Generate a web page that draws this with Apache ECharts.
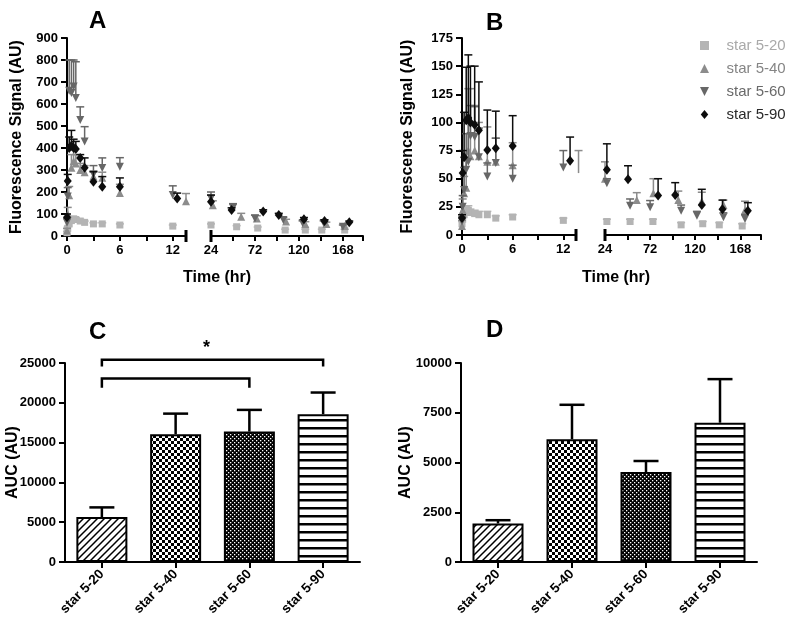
<!DOCTYPE html>
<html><head><meta charset="utf-8">
<script src="https://cdn.jsdelivr.net/npm/echarts/dist/echarts.min.js"></script>
<style>html,body{margin:0;padding:0;background:#fff}#c{width:800px;height:627px}</style>
</head><body><div id="c"></div>
<script>
const seriesNames = ['star 5-20', 'star 5-40', 'star 5-60', 'star 5-90'];

// Panel A: fluorescence signal (AU) vs time (hr)
const aTime20 = [0, 0.083, 0.25, 0.5, 0.75, 1, 1.5, 2, 3, 4, 6, 12, 24, 52, 75, 105, 127, 145, 170];
const aMean20 = [15, 35, 55, 70, 78, 75, 68, 62, 55, 55, 50, 45, 50, 42, 36, 27, 27, 27, 27];
const aErr20  = [5, 8, 10, 10, 10, 8, 8, 6, 5, 5, 5, 5, 5, 5, 5, 4, 4, 4, 4];
const aTime40 = [0, 0.083, 0.25, 0.5, 0.75, 1, 1.5, 2, 3, 4, 6, 13.5, 26, 57, 74, 106, 127, 150, 170];
const aMean40 = [25, 100, 185, 310, 340, 330, 300, 290, 270, 265, 195, 158, 140, 88, 80, 66, 55, 55, 45];
const aErr40  = [10, 30, 40, 60, 60, 40, 30, 30, 25, 25, 40, 35, 20, 15, 12, 10, 10, 8, 8];
const aTime60 = [0, 0.083, 0.25, 0.5, 0.75, 1, 1.5, 2, 3, 4, 6, 12, 24, 48, 72, 103, 124, 147, 168];
const aMean60 = [60, 180, 660, 650, 680, 627, 527, 430, 280, 309, 315, 186, 170, 127, 80, 73, 59, 59, 42];
const aErr60  = [20, 40, 140, 150, 120, 165, 60, 67, 40, 46, 41, 42, 30, 20, 15, 12, 10, 10, 8];
const aTime90 = [0, 0.083, 0.25, 0.5, 0.75, 1, 1.5, 2, 3, 4, 6, 12.5, 24, 46.5, 81, 98, 125.5, 148, 175];
const aMean90 = [85, 250, 400, 410, 400, 395, 355, 310, 247, 224, 224, 170, 156, 118, 111, 95, 76, 68, 62];
const aErr90  = [15, 30, 50, 70, 40, 35, 15, 45, 45, 46, 40, 25, 30, 10, 8, 8, 8, 6, 6];

// Panel B: fluorescence signal (AU) vs time (hr)
const bTime20 = [0, 0.083, 0.25, 0.5, 0.75, 1, 1.5, 2, 3, 4, 6, 12, 26, 50.7, 75, 105, 128, 145.6, 170];
const bMean20 = [10, 14, 18, 21, 22, 20, 19, 18, 18, 15, 16, 13, 12, 12, 12, 9, 10, 9, 8];
const bErr20  = [2, 3, 3, 4, 4, 3, 3, 3, 3, 2, 2, 2, 2, 2, 2, 2, 2, 2, 2];
const bTime40 = [0, 0.083, 0.25, 0.5, 0.75, 1, 1.5, 2, 3, 4, 6, 13.8, 24, 57.8, 75.5, 102, 127, 150, 173];
const bMean40 = [8, 22, 37, 42, 75, 70, 75, 70, 65, 65, 62, 55, 50, 31, 37, 31, 30, 26.6, 22];
const bErr40  = [5, 10, 15, 30, 55, 60, 40, 30, 31, 21, 20, 20, 15, 6.6, 13, 8, 8, 4.4, 8];
const bTime60 = [0, 0.083, 0.25, 0.5, 0.75, 1, 1.5, 2, 3, 4, 6, 12, 26, 50.7, 72, 105, 121.8, 150, 173];
const bMean60 = [12, 25, 40, 58, 65, 88, 87, 69, 52, 64, 50, 60, 46, 26, 24.6, 21.6, 17, 15.7, 14.2];
const bErr60  = [4, 10, 20, 32, 35, 27, 27, 26, 12, 22, 12, 15, 4, 6, 6, 5, 4, 4, 4];
const bTime90 = [0, 0.083, 0.25, 0.5, 0.75, 1, 1.5, 2, 3, 4, 6, 12.8, 26, 48.5, 80.5, 98.7, 127, 149, 176];
const bMean90 = [15, 55, 69, 102, 104, 100, 98, 93, 75.5, 77, 79, 66, 58, 49.5, 35, 35.5, 26.6, 22.8, 21.6];
const bErr90  = [3, 20, 40, 47, 56, 50, 52, 43, 35.5, 33, 27, 21, 23, 12, 15, 11, 14, 8.2, 7.1];

// Panels C and D: AUC (AU)
const barCategories = ['star 5-20', 'star 5-40', 'star 5-60', 'star 5-90'];
const cMean = [5640, 16060, 16380, 18570];
const cErr  = [1220, 2580, 2730, 2720];
const dMean = [1935, 6170, 4520, 7000];
const dErr  = [165, 1730, 555, 2190];

// Significance brackets in C (category index from/to, level, leg end)
const sigFrom = [0, 0];
const sigTo = [3, 2];
const sigLevel = [25400, 23050];
const sigLegEnd = [24550, 21900];
const sigLabel = ['*', ''];

// Tick label sets
const timeTicksEarly = [0, 6, 12];
const timeTicksLate = [24, 72, 120, 168];

// ---------- styles ----------
const FONT = '"Liberation Sans", Arial, sans-serif';
const markerColors = ['#b4b4b4', '#8c8c8c', '#676767', '#0d0d0d'];
const legendTextColors = ['#a9a9a9', '#858585', '#6a6a6a', '#2a2a2a'];
const markerSymbols = ['rect', 'triangle', 'triangle', 'diamond'];
const markerRotate = [0, 0, 180, 0];
const markerSizes = [7, 8, 8, [8, 10]];
const legendIcons = ['path://M0,0H10V10H0Z', 'path://M5,0L10,10H0Z', 'path://M0,0H10L5,10Z', 'path://M5,0L10,6L5,12L0,6Z'];

function makePattern(w, h, draw) {
  const c = document.createElement('canvas');
  c.width = w; c.height = h;
  const ctx = c.getContext('2d');
  ctx.fillStyle = '#fff'; ctx.fillRect(0, 0, w, h);
  ctx.fillStyle = '#000'; ctx.strokeStyle = '#000';
  draw(ctx, w, h);
  return { image: c, repeat: 'repeat' };
}
const patDiag = makePattern(7, 7, (ctx, w, h) => {
  ctx.lineWidth = 1.5;
  ctx.beginPath();
  ctx.moveTo(0, h); ctx.lineTo(w, 0);
  ctx.moveTo(-1, 1); ctx.lineTo(1, -1);
  ctx.moveTo(w - 1, h + 1); ctx.lineTo(w + 1, h - 1);
  ctx.stroke();
});
const patChecker = makePattern(6, 6, (ctx) => {
  ctx.fillRect(0, 0, 3, 3); ctx.fillRect(3, 3, 3, 3);
});
const patFine = makePattern(4, 4, (ctx) => {
  ctx.fillRect(0, 0, 4, 4);
  ctx.fillStyle = '#fff';
  ctx.fillRect(0, 0, 1.3, 1.3); ctx.fillRect(2, 2, 1.3, 1.3);
});
const patStripes = makePattern(8, 8, (ctx) => {
  ctx.fillRect(0, 3, 8, 2.5);
});
const barPatterns = [patDiag, patChecker, patFine, patStripes];

// ---------- helpers ----------
const panelData = {
  A: [[aTime20, aMean20, aErr20], [aTime40, aMean40, aErr40], [aTime60, aMean60, aErr60], [aTime90, aMean90, aErr90]],
  B: [[bTime20, bMean20, bErr20], [bTime40, bMean40, bErr40], [bTime60, bMean60, bErr60], [bTime90, bMean90, bErr90]]
};
function rows(set, late) {
  const [t, m, e] = set;
  const out = [];
  for (let i = 0; i < t.length; i++) {
    if ((t[i] > 18) === late) out.push([t[i], m[i], e[i]]);
  }
  return out;
}
function errRenderer(color, half, lw) {
  return function (params, api) {
    const x = api.value(0), m = api.value(1), e = api.value(2);
    const p0 = api.coord([x, m]);
    const p1 = api.coord([x, m + e]);
    return {
      type: 'group',
      children: [
        { type: 'line', shape: { x1: p0[0], y1: p0[1], x2: p1[0], y2: p1[1] }, style: { stroke: color, lineWidth: lw } },
        { type: 'line', shape: { x1: p1[0] - half, y1: p1[1], x2: p1[0] + half, y2: p1[1] }, style: { stroke: color, lineWidth: lw } }
      ]
    };
  };
}

const axisLineStyle = { color: '#000', width: 2 };
const tickLabel = { color: '#000', fontSize: 13, fontWeight: 'bold', fontFamily: FONT, formatter: v => String(v) };

function timeAxis(gridIndex, late) {
  return {
    type: 'value', gridIndex,
    min: late ? 24 : 0, max: late ? 190 : 13.5, interval: late ? 24 : 3,
    axisLine: { show: true, onZero: false, lineStyle: axisLineStyle,
      symbol: late ? ['rect', 'none'] : ['none', 'rect'], symbolSize: [12, 3], symbolOffset: [0, 0] },
    axisTick: { show: true, length: 5, lineStyle: { color: '#000', width: 2 } },
    axisLabel: Object.assign({}, tickLabel, { margin: 8,
      formatter: v => (late ? timeTicksLate : timeTicksEarly).indexOf(v) >= 0 ? String(v) : '' }),
    splitLine: { show: false }
  };
}
function signalAxis(gridIndex, max, interval, show, gap) {
  return {
    type: 'value', gridIndex, min: 0, max, interval, show,
    name: show ? 'Fluorescence Signal (AU)' : '', nameLocation: 'middle', nameGap: gap, nameMoveOverlap: false,
    nameTextStyle: { color: '#000', fontSize: 16, fontWeight: 'bold', fontFamily: FONT },
    axisLine: { show: true, lineStyle: axisLineStyle },
    axisTick: { show: true, length: 6, lineStyle: { color: '#000', width: 2 } },
    axisLabel: Object.assign({}, tickLabel, { margin: 9 }),
    splitLine: { show: false }
  };
}
function catAxis(gridIndex) {
  return {
    type: 'category', gridIndex, data: barCategories,
    axisLine: { show: true, lineStyle: axisLineStyle },
    axisTick: { show: true, alignWithLabel: true, length: 6, lineStyle: { color: '#000', width: 2 } },
    axisLabel: { color: '#000', fontSize: 13.5, fontWeight: 'bold', fontFamily: FONT, rotate: 45, margin: 10, interval: 0 },
    splitLine: { show: false }
  };
}
function aucAxis(gridIndex, max, interval, gap) {
  return {
    type: 'value', gridIndex, min: 0, max, interval,
    name: 'AUC (AU)', nameLocation: 'middle', nameGap: gap, nameMoveOverlap: false,
    nameTextStyle: { color: '#000', fontSize: 16, fontWeight: 'bold', fontFamily: FONT },
    axisLine: { show: true, lineStyle: axisLineStyle },
    axisTick: { show: true, length: 6, lineStyle: { color: '#000', width: 2 } },
    axisLabel: Object.assign({}, tickLabel, { margin: 9 }),
    splitLine: { show: false }
  };
}

const series = [];
[['A', 0, 1], ['B', 2, 3]].forEach(([p, g1, g2]) => {
  [[g1, false], [g2, true]].forEach(([gi, late]) => {
    panelData[p].forEach((set, s) => {
      const d = rows(set, late);
      series.push({
        type: 'custom', name: seriesNames[s], xAxisIndex: gi, yAxisIndex: gi,
        data: d, renderItem: errRenderer(markerColors[s], 4, 1.5), z: 2 + s * 2,
        encode: { x: 0, y: 1 }, clip: false, silent: true
      });
      series.push({
        type: 'scatter', name: seriesNames[s], xAxisIndex: gi, yAxisIndex: gi,
        data: d.map(r => [r[0], r[1]]), symbol: markerSymbols[s], symbolRotate: markerRotate[s],
        symbolSize: markerSizes[s], itemStyle: { color: markerColors[s], opacity: 1 }, z: 3 + s * 2, silent: true
      });
    });
  });
});

[[4, cMean, cErr], [5, dMean, dErr]].forEach(([gi, mean, err]) => {
  series.push({
    type: 'bar', xAxisIndex: gi, yAxisIndex: gi, barWidth: 51, silent: true,
    data: mean.map((v, i) => ({ value: v, itemStyle: { color: barPatterns[i], borderColor: '#000', borderWidth: 2 } })),
    z: 2
  });
  series.push({
    type: 'custom', xAxisIndex: gi, yAxisIndex: gi, silent: true, clip: false, z: 3,
    data: mean.map((v, i) => [i, v, err[i]]), encode: { x: 0, y: 1 },
    renderItem: errRenderer('#000', 12.5, 2.5)
  });
});

series.push({
  type: 'custom', xAxisIndex: 4, yAxisIndex: 4, silent: true, clip: false, z: 4,
  data: sigFrom.map((f, i) => [f, sigLevel[i]]), encode: { x: 0, y: 1 },
  renderItem: function (params, api) {
    const i = params.dataIndex;
    const a = api.coord([sigFrom[i], sigLegEnd[i]]);
    const b = api.coord([sigFrom[i], sigLevel[i]]);
    const c = api.coord([sigTo[i], sigLevel[i]]);
    const d = api.coord([sigTo[i], sigLegEnd[i]]);
    const children = [{ type: 'polyline', shape: { points: [a, b, c, d] }, style: { stroke: '#000', lineWidth: 2.5, fill: null } }];
    if (sigLabel[i]) {
      children.push({ type: 'text', x: (b[0] + c[0]) / 2 - 6, y: b[1] - 3,
        style: { text: sigLabel[i], fill: '#000', font: 'bold 18px ' + FONT, align: 'center', verticalAlign: 'bottom' } });
    }
    return { type: 'group', children };
  }
});

const titleStyle = { color: '#000', fontSize: 24, fontWeight: 'bold', fontFamily: FONT };
const nameStyle = { color: '#000', fontSize: 16, fontWeight: 'bold', fontFamily: FONT };

const option = {
  animation: false,
  backgroundColor: '#fff',
  textStyle: { fontFamily: FONT },
  title: [
    { text: 'A', left: 89, top: 9, textStyle: titleStyle, padding: 0 },
    { text: 'B', left: 486, top: 11, textStyle: titleStyle, padding: 0 },
    { text: 'C', left: 89, top: 320, textStyle: titleStyle, padding: 0 },
    { text: 'D', left: 486, top: 318, textStyle: titleStyle, padding: 0 },
    { text: 'Time (hr)', left: 183, top: 270, textStyle: nameStyle, padding: 0 },
    { text: 'Time (hr)', left: 582, top: 270, textStyle: nameStyle, padding: 0 }
  ],
  legend: {
    orient: 'vertical', left: 695, top: 33, itemWidth: 34, itemHeight: 9, itemGap: 8,
    selectedMode: false,
    textStyle: { fontSize: 15, fontFamily: FONT },
    data: seriesNames.map((n, i) => ({ name: n, icon: legendIcons[i], itemStyle: { color: markerColors[i] }, textStyle: { color: legendTextColors[i] } }))
  },
  grid: [
    { left: 67, top: 38, width: 119, height: 198 },
    { left: 211, top: 38, width: 152, height: 198 },
    { left: 462, top: 38, width: 114, height: 197 },
    { left: 605, top: 38, width: 156, height: 197 },
    { left: 65, top: 363, width: 295, height: 199 },
    { left: 461, top: 363, width: 296, height: 199 }
  ],
  xAxis: [timeAxis(0, false), timeAxis(1, true), timeAxis(2, false), timeAxis(3, true), catAxis(4), catAxis(5)],
  yAxis: [signalAxis(0, 900, 100, true, 42), signalAxis(1, 900, 100, false, 0),
          signalAxis(2, 175, 25, true, 46), signalAxis(3, 175, 25, false, 0),
          aucAxis(4, 25000, 5000, 44), aucAxis(5, 10000, 2500, 47)],
  series
};
const chart = echarts.init(document.getElementById('c'), null, { renderer: 'canvas' });
chart.setOption(option);
</script></body></html>
